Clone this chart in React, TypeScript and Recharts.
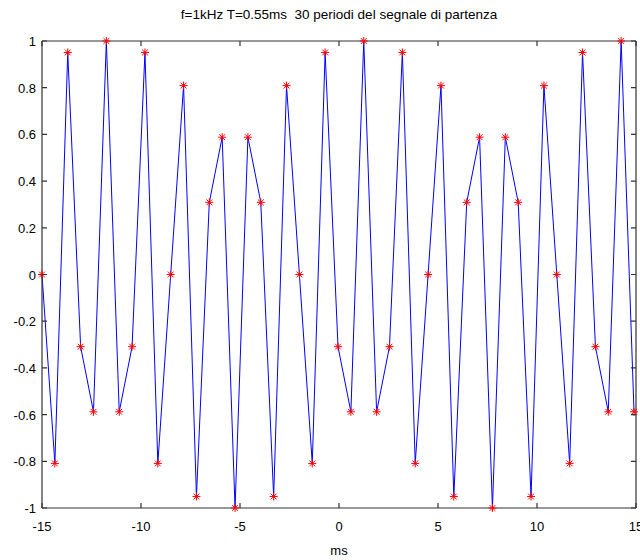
import React from 'react';
import { LineChart, Line, XAxis, YAxis } from 'recharts';

const times = [
  -15, -14.35, -13.7, -13.05, -12.4, -11.75, -11.1, -10.45, -9.8, -9.15,
  -8.5, -7.85, -7.2, -6.55, -5.9, -5.25, -4.6, -3.95, -3.3, -2.65,
  -2, -1.35, -0.7, -0.05, 0.6, 1.25, 1.9, 2.55, 3.2, 3.85,
  4.5, 5.15, 5.8, 6.45, 7.1, 7.75, 8.4, 9.05, 9.7, 10.35,
  11, 11.65, 12.3, 12.95, 13.6, 14.25, 14.9,
];
const values = [
  0, -0.809, 0.951, -0.309, -0.588, 1, -0.588, -0.309, 0.951, -0.809,
  0, 0.809, -0.951, 0.309, 0.588, -1, 0.588, 0.309, -0.951, 0.809,
  0, -0.809, 0.951, -0.309, -0.588, 1, -0.588, -0.309, 0.951, -0.809,
  0, 0.809, -0.951, 0.309, 0.588, -1, 0.588, 0.309, -0.951, 0.809,
  0, -0.809, 0.951, -0.309, -0.588, 1, -0.588,
];
const xTicks = [-15, -10, -5, 0, 5, 10, 15];
const yTicks = [-1, -0.8, -0.6, -0.4, -0.2, 0, 0.2, 0.4, 0.6, 0.8, 1];
const title = 'f=1kHz T=0.55ms  30 periodi del segnale di partenza';
const xLabel = 'ms';

const data = times.map((t, i) => ({ t, v: values[i] }));

const FONT = '"Liberation Sans", Arial, sans-serif';
const AXIS = '#333333';
const PLOT_TOP = 41;
const PLOT_RIGHT = 636;

const BottomTick = (props: any) => {
  const { x, y, payload } = props;
  return (
    <g>
      <path d={`M${x},${y}V${y - 5}M${x},${PLOT_TOP}V${PLOT_TOP + 5}`} stroke={AXIS} strokeWidth={1.2} fill="none" />
      <text x={x} y={y + 23} textAnchor="middle" fontSize={13} fontFamily={FONT} fill="#000">
        {payload.value}
      </text>
    </g>
  );
};
const LeftTick = (props: any) => {
  const { x, y, payload } = props;
  return (
    <g>
      <path d={`M${x},${y}H${x + 5}M${PLOT_RIGHT},${y}H${PLOT_RIGHT - 5}`} stroke={AXIS} strokeWidth={1.2} fill="none" />
      <text x={x - 6} y={y + 5} textAnchor="end" fontSize={13} fontFamily={FONT} fill="#000">
        {payload.value}
      </text>
    </g>
  );
};

const Star = (props: any) => {
  const { cx, cy, index } = props;
  if (cx == null || cy == null) return <g key={index} />;
  const r = 4;
  const d = 2.9;
  return (
    <g key={index} stroke="#ff0000" strokeWidth={1}>
      <line x1={cx - r} x2={cx + r} y1={cy} y2={cy} />
      <line x1={cx} x2={cx} y1={cy - r} y2={cy + r} />
      <line x1={cx - d} x2={cx + d} y1={cy - d} y2={cy + d} />
      <line x1={cx - d} x2={cx + d} y1={cy + d} y2={cy - d} />
    </g>
  );
};

export default function App() {
  return (
    <div style={{ position: 'absolute', left: 0, top: 0 }}>
      <div
        style={{
          position: 'absolute',
          left: 42,
          top: 7,
          width: 594,
          textAlign: 'center',
          fontFamily: FONT,
          fontSize: 13.5,
          lineHeight: '15px',
          color: '#000',
          whiteSpace: 'pre',
        }}
      >
        {title}
      </div>
      <LineChart width={640} height={560} data={data} margin={{ top: 40, right: 3, bottom: 0, left: 0 }}>
        <XAxis
          dataKey="t"
          type="number"
          domain={[-15, 15]}
          ticks={xTicks}
          height={52}
          tickSize={0}
          tickMargin={0}
          tickLine={false}
          stroke={AXIS}
          strokeWidth={1.2}
          tick={<BottomTick />}
          interval={0}
          label={{ value: xLabel, position: 'insideBottom', offset: 5, fill: '#000', fontSize: 13, fontFamily: FONT }}
        />
        <XAxis
          xAxisId="top"
          orientation="top"
          dataKey="t"
          type="number"
          domain={[-15, 15]}
          ticks={xTicks}
          height={1}
          tick={false}
          tickLine={false}
          stroke={AXIS}
          strokeWidth={1.2}
        />
        <YAxis
          type="number"
          domain={[-1, 1]}
          ticks={yTicks}
          width={42}
          tickSize={0}
          tickMargin={0}
          tickLine={false}
          stroke={AXIS}
          strokeWidth={1.2}
          tick={<LeftTick />}
          interval={0}
        />
        <YAxis
          yAxisId="right"
          orientation="right"
          type="number"
          domain={[-1, 1]}
          ticks={yTicks}
          width={1}
          tick={false}
          tickLine={false}
          stroke={AXIS}
          strokeWidth={1.2}
        />
        <Line
          type="linear"
          dataKey="v"
          stroke="#0000ff"
          strokeWidth={1}
          dot={<Star />}
          activeDot={false}
          isAnimationActive={false}
        />
      </LineChart>
    </div>
  );
}
